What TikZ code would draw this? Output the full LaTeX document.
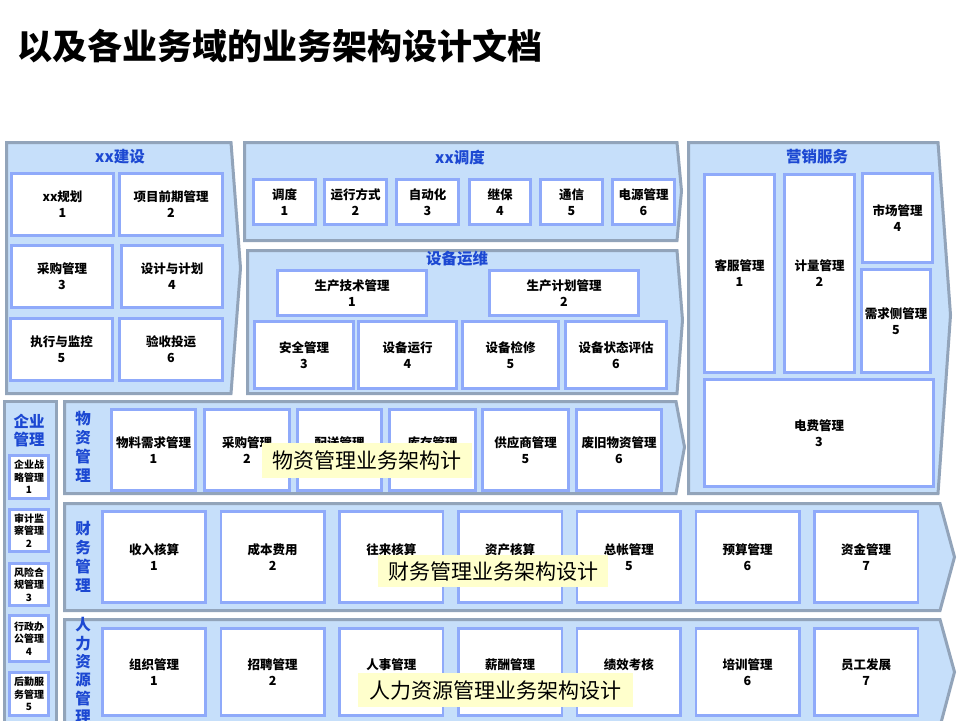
\documentclass[tikz,border=0pt]{standalone}
\usepackage{fontspec}
\newfontfamily\cjk{Noto Sans CJK SC}
\definecolor{blkfill}{RGB}{198,223,250}
\definecolor{blkline}{RGB}{146,164,186}
\definecolor{boxline}{RGB}{143,170,250}
\definecolor{ttlblue}{RGB}{28,72,210}
\definecolor{ylw}{RGB}{255,255,204}
\tikzset{
  x=1pt, y=-1pt,
  blk/.style={draw=blkline, fill=blkfill, line width=3pt, line join=miter},
  bxstyle/.style={draw=boxline, fill=white, line width=2.6pt, inner sep=0pt, outer sep=0pt, align=center,
    font=\cjk\bfseries\fontsize{12.5}{16}\selectfont},
  small/.style={font=\cjk\bfseries\fontsize{10}{12.5}\selectfont},
  ttl/.style={text=ttlblue, font=\cjk\bfseries\fontsize{15.5}{18}\selectfont, align=center, inner sep=0pt},
  vttl/.style={text=ttlblue, font=\cjk\bfseries\fontsize{15.5}{19}\selectfont, align=center, inner sep=0pt},
  ylab/.style={fill=ylw, inner sep=0pt, anchor=north west, font=\cjk\fontsize{21}{24}\selectfont},
}
% name, x1, y1, x2, y2, text
\newcommand\bxx[7][]{\node[bxstyle, #1, anchor=north west, minimum width={(#5-#3-2.6)*1pt}, minimum height={(#6-#4-2.6)*1pt}] (#2) at (#3+1.3,#4+1.3) {#7};}
% x1 y1 x2 y2 tipx tipy
\newcommand\chev[6]{\draw[blk] (#1+1.5,#2+1.5) -- (#3,#2+1.5) -- (#5-1.5,#6) -- (#3,#4-1.5) -- (#1+1.5,#4-1.5) -- cycle;}
\begin{document}
\begin{tikzpicture}
\useasboundingbox (0,0) rectangle (960,720);
\fill[white] (0,0) rectangle (960,720);
\clip (0,0) rectangle (960,720);

% page title
\node[anchor=west, inner sep=0pt, font=\cjk\bfseries\fontsize{35}{40}\selectfont] (title) at (17,46) {以及各业务域的业务架构设计文档};

% blocks
\chev{5}{141}{231}{395}{242}{268}
\chev{243}{141}{677}{242}{683}{191}
\chev{246}{249}{677}{395}{684}{320}
\chev{687}{141}{938}{495}{952}{315}
\draw[blk] (4.5,401.5) rectangle (56.5,740);
\chev{63}{400}{676}{495}{686}{447}
\chev{63}{502}{940}{612}{956}{557}
\chev{63}{618}{940}{728}{956}{672}

% block titles
\node[ttl] (tjs) at (120,157) {xx建设};
\node[ttl] (tdd) at (460,158) {xx调度};
\node[ttl] (tyw) at (457,259) {设备运维};
\node[ttl] (tyx) at (817,157) {营销服务};
\node[ttl] (tqy) at (29,431) {企业\\管理};
\node[vttl] (twz) at (83,447) {物\\资\\管\\理};
\node[vttl] (tcw) at (83,557) {财\\务\\管\\理};
\node[vttl, font=\cjk\bfseries\fontsize{15.5}{18.3}\selectfont] (trl) at (83,670.5) {人\\力\\资\\源\\管\\理};

% xx建设
\bxx{js1}{10}{172}{115}{237}{xx规划\\1}
\bxx{js2}{118}{172}{224}{237}{项目前期管理\\2}
\bxx{js3}{10}{244}{114}{309}{采购管理\\3}
\bxx{js4}{120}{244}{224}{309}{设计与计划\\4}
\bxx{js5}{9}{317}{114}{382}{执行与监控\\5}
\bxx{js6}{118}{317}{224}{382}{验收投运\\6}

% xx调度
\bxx{dd1}{252}{178}{317}{226}{调度\\1}
\bxx{dd2}{323}{178}{388}{226}{运行方式\\2}
\bxx{dd3}{395}{178}{460}{226}{自动化\\3}
\bxx{dd4}{468}{178}{532}{226}{继保\\4}
\bxx{dd5}{539}{178}{604}{226}{通信\\5}
\bxx{dd6}{611}{178}{676}{226}{电源管理\\6}

% 设备运维
\bxx{yw1}{276}{269}{428}{317}{生产技术管理\\1}
\bxx{yw2}{488}{269}{640}{317}{生产计划管理\\2}
\bxx{yw3}{253}{320}{355}{390}{安全管理\\3}
\bxx{yw4}{357}{320}{458}{390}{设备运行\\4}
\bxx{yw5}{461}{320}{560}{390}{设备检修\\5}
\bxx{yw6}{564}{320}{668}{390}{设备状态评估\\6}

% 营销服务
\bxx{yx1}{703}{173}{776}{374}{客服管理\\1}
\bxx{yx2}{783}{173}{856}{374}{计量管理\\2}
\bxx{yx4}{861}{172}{934}{264}{市场管理\\4}
\bxx{yx5}{860}{268}{932}{374}{需求侧管理\\5}
\bxx{yx3}{703}{378}{935}{488}{电费管理\\3}

% 企业管理
\bxx[small]{qy1}{8}{454}{50}{500}{企业战\\略管理\\1}
\bxx[small]{qy2}{8}{508}{50}{553}{审计监\\察管理\\2}
\bxx[small]{qy3}{8}{562}{50}{607}{风险合\\规管理\\3}
\bxx[small]{qy4}{8}{614}{50}{663}{行政办\\公管理\\4}
\bxx[small]{qy5}{8}{671}{50}{717}{后勤服\\务管理\\5}

% 物资管理
\bxx{wz1}{110}{408}{197}{492}{物料需求管理\\1}
\bxx{wz2}{203}{408}{291}{492}{采购管理\\2}
\bxx{wz3}{296}{408}{383}{492}{配送管理\\3}
\bxx{wz4}{388}{408}{477}{492}{库存管理\\4}
\bxx{wz5}{481}{408}{570}{492}{供应商管理\\5}
\bxx{wz6}{575}{408}{663}{492}{废旧物资管理\\6}

% 财务管理
\bxx{cw1}{101}{510}{207}{604}{收入核算\\1}
\bxx{cw2}{219.7}{510}{325.7}{604}{成本费用\\2}
\bxx{cw3}{338.4}{510}{444.4}{604}{往来核算\\3}
\bxx{cw4}{457.1}{510}{563.1}{604}{资产核算\\4}
\bxx{cw5}{575.8}{510}{681.8}{604}{总帐管理\\5}
\bxx{cw6}{694.5}{510}{800.5}{604}{预算管理\\6}
\bxx{cw7}{813.2}{510}{919.2}{604}{资金管理\\7}

% 人力资源管理
\bxx{rl1}{101}{627}{207}{717}{组织管理\\1}
\bxx{rl2}{219.7}{627}{325.7}{717}{招聘管理\\2}
\bxx{rl3}{338.4}{627}{444.4}{717}{人事管理\\3}
\bxx{rl4}{457.1}{627}{563.1}{717}{薪酬管理\\4}
\bxx{rl5}{575.8}{627}{681.8}{717}{绩效考核\\5}
\bxx{rl6}{694.5}{627}{800.5}{717}{培训管理\\6}
\bxx{rl7}{813.2}{627}{919.2}{717}{员工发展\\7}

% yellow captions
\node[ylab, minimum width=210pt, minimum height=35pt] (cap1) at (262,443) {物资管理业务架构计};
\node[ylab, minimum width=230pt, minimum height=32pt] (cap2) at (378,555) {财务管理业务架构设计};
\node[ylab, minimum width=275pt, minimum height=34pt] (cap3) at (358,673) {人力资源管理业务架构设计};
\end{tikzpicture}
\end{document}
